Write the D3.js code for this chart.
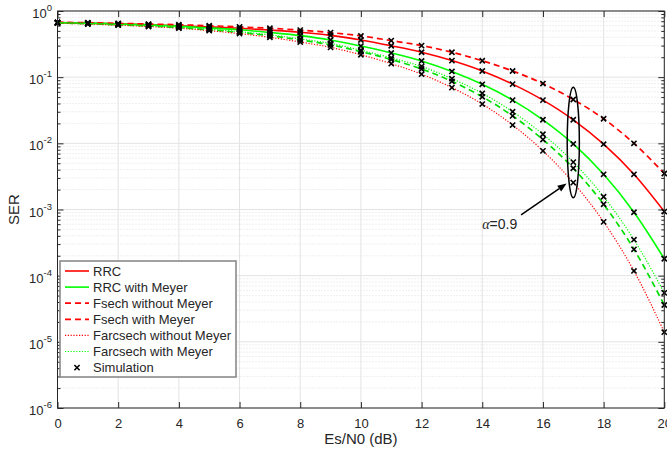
<!DOCTYPE html>
<html>
<head>
<meta charset="utf-8">
<script src="https://cdn.jsdelivr.net/npm/d3@7"></script>
<style>
  html, body { margin: 0; padding: 0; background: #fff; }
  svg { display: block; font-family: "Liberation Sans", Arial, Helvetica, sans-serif; }
</style>
</head>
<body>
<svg id="chart" width="667" height="451"></svg>
<script>
// Es/N0 grid (dB)
const snrDb = [0, 1, 2, 3, 4, 5, 6, 7, 8, 9, 10, 11, 12, 13, 14, 15, 16, 17, 18, 19, 20];

// Symbol error rate per pulse-shaping scheme
const serRrc = [0.67, 0.655, 0.64, 0.62, 0.60, 0.575, 0.548, 0.515, 0.478, 0.428, 0.365, 0.298, 0.238, 0.178, 0.124, 0.0785, 0.045, 0.0227, 0.0097, 0.0034, 9.3e-4];
const serRrcMeyer = [0.666, 0.656, 0.637, 0.617, 0.59, 0.555, 0.52, 0.473, 0.425, 0.365, 0.295, 0.232, 0.176, 0.122, 0.078, 0.045, 0.0227, 0.0098, 0.0034, 9.1e-4, 1.8e-4];
const serFsech = [0.675, 0.665, 0.65, 0.635, 0.62, 0.60, 0.575, 0.548, 0.515, 0.472, 0.42, 0.357, 0.30, 0.238, 0.177, 0.124, 0.080, 0.046, 0.0235, 0.0100, 0.0035];
const serFsechMeyer = [0.66, 0.643, 0.62, 0.593, 0.56, 0.52, 0.475, 0.423, 0.365, 0.308, 0.243, 0.185, 0.133, 0.0865, 0.0505, 0.026, 0.0114, 0.0042, 0.0012, 2.5e-4, 3.6e-5];
const serFarcsech = [0.655, 0.635, 0.61, 0.583, 0.55, 0.505, 0.455, 0.40, 0.34, 0.282, 0.218, 0.16, 0.111, 0.0695, 0.0392, 0.0189, 0.0077, 0.00255, 6.5e-4, 1.18e-4, 1.4e-5];
const serFarcsechMeyer = [0.665, 0.648, 0.627, 0.60, 0.568, 0.531, 0.487, 0.437, 0.379, 0.323, 0.255, 0.196, 0.145, 0.095, 0.057, 0.0301, 0.0137, 0.0052, 0.00156, 3.5e-4, 5.5e-5];

// Axis ticks
const xTicks = [0, 2, 4, 6, 8, 10, 12, 14, 16, 18, 20];
const yDecadeExponents = [0, -1, -2, -3, -4, -5, -6];

// Legend entries (swatch colours as shown in the legend box)
const legendLabels = ["RRC", "RRC with Meyer", "Fsech without Meyer", "Fsech with Meyer", "Farcsech without Meyer", "Farcsech with Meyer", "Simulation"];
const legendColors = ["#ff0000", "#00ff00", "#ff0000", "#ff0000", "#ff0000", "#00ff00", "#000000"];
const legendStyles = ["solid", "solid", "dashed", "dashed", "dotted", "dotted", "marker"];

// Roll-off annotation
const annotAlpha = "0.9";
const annotX = 17, annotHalfWidthDb = 0.2, annotTop = 0.0706, annotBottom = 1.5e-3;
const arrowFrom = [15.28, 8.3e-4], arrowTo = [16.78, 2.47e-3];
const annotTextPos = [14.0, 5.1e-4];

const series = [
  { values: serRrc, color: "#ff0000", style: "solid" },
  { values: serRrcMeyer, color: "#00ff00", style: "solid" },
  { values: serFsech, color: "#ff0000", style: "dashed" },
  { values: serFsechMeyer, color: "#00dd00", style: "dashed" },
  { values: serFarcsech, color: "#ff0000", style: "dotted" },
  { values: serFarcsechMeyer, color: "#00ff00", style: "dotted" }
];

const dashFor = { solid: null, dashed: "6,4", dotted: "1.2,1.6" };
const widthFor = { solid: 1.6, dashed: 1.7, dotted: 1.2 };

const svg = d3.select("#chart");
const pL = 57.5, pR = 664.3, pT = 11, pB = 408;

const x = d3.scaleLinear().domain([0, 20]).range([pL, pR]);
const y = d3.scaleLog().domain([1e-6, 1]).range([pB, pT]);

const axisColor = "#262626";

// grid
const grid = svg.append("g");
const minorVals = [];
for (let e = -6; e < 0; e++) for (let m = 2; m <= 9; m++) minorVals.push(m * Math.pow(10, e));
grid.selectAll("line.minor").data(minorVals).join("line")
  .attr("x1", pL).attr("x2", pR)
  .attr("y1", d => y(d)).attr("y2", d => y(d))
  .attr("stroke", "#d9d9d9").attr("stroke-width", 0.8).attr("stroke-dasharray", "1,2");
grid.selectAll("line.gx").data(xTicks).join("line")
  .attr("x1", d => x(d)).attr("x2", d => x(d))
  .attr("y1", pT).attr("y2", pB)
  .attr("stroke", "#e3e3e3").attr("stroke-width", 1);
grid.selectAll("line.gy").data(yDecadeExponents).join("line")
  .attr("x1", pL).attr("x2", pR)
  .attr("y1", d => y(Math.pow(10, d))).attr("y2", d => y(Math.pow(10, d)))
  .attr("stroke", "#e3e3e3").attr("stroke-width", 1);

// axes via d3 axis generators, ticks pointing inward
const xAxisB = d3.axisBottom(x).tickValues(xTicks).tickSizeInner(-6).tickSizeOuter(0).tickPadding(11);
const xAxisT = d3.axisTop(x).tickValues(xTicks).tickSizeInner(-6).tickSizeOuter(0).tickFormat("");
const gxb = svg.append("g").attr("transform", `translate(0,${pB})`).call(xAxisB);
const gxt = svg.append("g").attr("transform", `translate(0,${pT})`).call(xAxisT);

const decadeVals = yDecadeExponents.map(e => Math.pow(10, e));
const yAxisL = d3.axisLeft(y).tickValues(decadeVals).tickSizeInner(-6).tickSizeOuter(0).tickFormat("");
const yAxisR = d3.axisRight(y).tickValues(decadeVals).tickSizeInner(-6).tickSizeOuter(0).tickFormat("");
const yMinorL = d3.axisLeft(y).tickValues(minorVals).tickSizeInner(-3).tickSizeOuter(0).tickFormat("");
const yMinorR = d3.axisRight(y).tickValues(minorVals).tickSizeInner(-3).tickSizeOuter(0).tickFormat("");
const gyl = svg.append("g").attr("transform", `translate(${pL},0)`).call(yAxisL);
const gyr = svg.append("g").attr("transform", `translate(${pR},0)`).call(yAxisR);
const gyl2 = svg.append("g").attr("transform", `translate(${pL},0)`).call(yMinorL);
const gyr2 = svg.append("g").attr("transform", `translate(${pR},0)`).call(yMinorR);

[gxb, gxt, gyl, gyr, gyl2, gyr2].forEach(g => {
  g.selectAll(".domain").remove();
  g.selectAll("line").attr("stroke", axisColor).attr("stroke-width", 1);
});
gxb.selectAll("text").attr("fill", axisColor).attr("font-size", 13)
  .attr("font-family", "Liberation Sans, Arial, sans-serif");

// y tick labels as 10^e
const ylab = svg.append("g");
yDecadeExponents.forEach(e => {
  const t = ylab.append("text")
    .attr("x", 52).attr("y", y(Math.pow(10, e)) + 7)
    .attr("text-anchor", "end").attr("fill", axisColor).attr("font-size", 13);
  t.append("tspan").text("10");
  t.append("tspan").attr("dy", -7).attr("font-size", 9.5).text(String(e));
});

// series lines
const line = d3.line().x((d, i) => x(snrDb[i])).y(d => y(d)).curve(d3.curveMonotoneX);
const plot = svg.append("g");
series.forEach(s => {
  plot.append("path").datum(s.values)
    .attr("d", line)
    .attr("fill", "none")
    .attr("stroke", s.color)
    .attr("stroke-width", widthFor[s.style])
    .attr("stroke-dasharray", dashFor[s.style]);
});

// simulation markers
const mk = 2.6;
const crossPath = (cx, cy) => `M${cx - mk},${cy - mk}L${cx + mk},${cy + mk}M${cx - mk},${cy + mk}L${cx + mk},${cy - mk}`;
series.forEach(s => {
  plot.append("g").selectAll("path").data(s.values).join("path")
    .attr("d", (d, i) => crossPath(x(snrDb[i]), y(d)))
    .attr("stroke", "#000").attr("stroke-width", 1.6).attr("fill", "none");
});

// axes frame
svg.append("rect").attr("x", pL).attr("y", pT)
  .attr("width", pR - pL).attr("height", pB - pT)
  .attr("fill", "none").attr("stroke", axisColor).attr("stroke-width", 1);

// annotation: ellipse, arrow, label
const ecx = x(annotX), erx = x(annotX + annotHalfWidthDb) - x(annotX);
const eyTop = y(annotTop), eyBot = y(annotBottom);
svg.append("ellipse")
  .attr("cx", ecx).attr("cy", (eyTop + eyBot) / 2)
  .attr("rx", erx).attr("ry", (eyBot - eyTop) / 2)
  .attr("fill", "none").attr("stroke", "#000").attr("stroke-width", 1.5);

const ax0 = x(arrowFrom[0]), ay0 = y(arrowFrom[1]);
const ax1 = x(arrowTo[0]), ay1 = y(arrowTo[1]);
const ang = Math.atan2(ay1 - ay0, ax1 - ax0);
const headLen = 9, headW = 3.5;
const bx = ax1 - headLen * Math.cos(ang), by = ay1 - headLen * Math.sin(ang);
svg.append("line").attr("x1", ax0).attr("y1", ay0).attr("x2", bx).attr("y2", by)
  .attr("stroke", "#000").attr("stroke-width", 1.5);
svg.append("path")
  .attr("d", `M${ax1},${ay1}L${bx - headW * Math.sin(ang)},${by + headW * Math.cos(ang)}L${bx + headW * Math.sin(ang)},${by - headW * Math.cos(ang)}Z`)
  .attr("fill", "#000");

const at = svg.append("text").attr("x", x(annotTextPos[0])).attr("y", y(annotTextPos[1]))
  .attr("font-size", 14).attr("fill", axisColor);
at.append("tspan").attr("font-family", "Liberation Serif, Times New Roman, serif").attr("font-style", "italic").text("\u03b1");
at.append("tspan").text("=" + annotAlpha);

// axis titles
svg.append("text").attr("x", (pL + pR) / 2).attr("y", 444)
  .attr("text-anchor", "middle").attr("font-size", 15).attr("fill", axisColor).text("Es/N0 (dB)");
svg.append("text").attr("transform", `translate(19,${(pT + pB) / 2}) rotate(-90)`)
  .attr("text-anchor", "middle").attr("font-size", 15).attr("fill", axisColor).text("SER");

// legend
const lg = svg.append("g");
const lgX = 60, lgY = 261, lgW = 176, rowH = 16.1;
lg.append("rect").attr("x", lgX).attr("y", lgY).attr("width", lgW).attr("height", 116)
  .attr("fill", "#fff").attr("stroke", "#8a8a8a").attr("stroke-width", 1.6);
legendLabels.forEach((lab, i) => {
  const ry = lgY + 10 + i * rowH;
  const st = legendStyles[i];
  if (st === "marker") {
    lg.append("path").attr("d", crossPath(77, ry)).attr("stroke", "#000").attr("stroke-width", 1.6);
  } else {
    lg.append("line").attr("x1", 65).attr("x2", 89).attr("y1", ry).attr("y2", ry)
      .attr("stroke", legendColors[i]).attr("stroke-width", widthFor[st])
      .attr("stroke-dasharray", dashFor[st]);
  }
  lg.append("text").attr("x", 93).attr("y", ry + 4.6).attr("font-size", 13)
    .attr("fill", axisColor).text(lab);
});
</script>
</body>
</html>
